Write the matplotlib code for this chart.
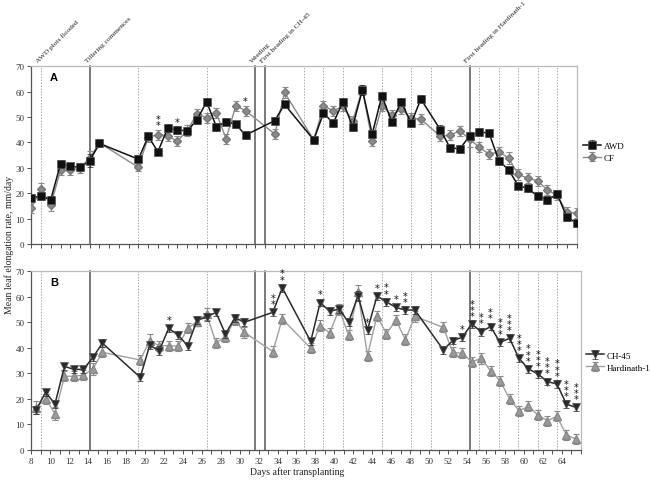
import matplotlib
matplotlib.use("Agg")
import matplotlib.pyplot as plt
from matplotlib.ticker import MultipleLocator, FixedLocator, NullFormatter
from matplotlib.transforms import blended_transform_factory

plt.rcParams['font.family'] = ['Liberation Serif', 'DejaVu Serif']

# ---------------- data: panel A (water regime) ----------------
days_A = [8, 9, 10, 11, 12, 13, 14, 15,
          19, 20, 21, 22, 23, 24, 25, 26, 27, 28, 29, 30,
          33, 34,
          37, 38, 39, 40, 41, 42, 43, 44, 45, 46, 47, 48,
          50, 51, 52, 53, 54, 55, 56, 57, 58, 59, 60, 61, 62, 63, 64]
awd = [18.3, 18.8, 17.5, 31.6, 30.6, 30.2, 32.8, 39.6,
       33.4, 42.4, 36.4, 45.6, 45.0, 44.5, 48.9, 56.0, 46.2, 48.2, 47.1, 42.9,
       48.6, 55.0,
       41.0, 51.6, 47.6, 56.0, 46.2, 60.8, 43.3, 58.4, 48.2, 56.0, 47.5, 57.1,
       45.0, 37.9, 37.5, 42.5, 44.0, 43.8, 32.8, 29.3, 23.0, 21.9, 18.8, 17.4, 19.6, 10.5, 8.3]
awd_err = [1.5, 1.5, 1.5, 1.5, 1.5, 1.5, 2.5, 1.5,
           1.5, 1.5, 1.5, 1.5, 1.5, 1.5, 1.5, 1.5, 1.5, 1.5, 1.5, 1.5,
           1.5, 1.5,
           1.5, 1.5, 1.5, 1.5, 1.5, 2.0, 1.5, 1.5, 1.5, 1.5, 1.5, 1.5,
           1.8, 1.5, 1.5, 1.5, 1.5, 1.5, 1.5, 1.5, 1.5, 1.5, 1.5, 1.5, 1.5, 1.5, 1.5]
cf = [14.3, 21.5, 15.4, 29.0, 29.2, 29.8, 34.0, 39.8,
      30.2, 42.0, 43.1, 42.5, 40.5, 44.7, 51.2, 49.8, 51.5, 41.5, 54.5, 52.5,
      43.3, 59.7,
      41.0, 54.4, 52.5, 54.2, 48.6, 60.8, 40.5, 54.4, 50.8, 53.1, 49.5, 49.2,
      42.4, 42.9, 44.6, 41.3, 38.1, 35.4, 36.3, 33.9, 27.4, 25.9, 24.9, 21.2, 19.2, 12.5, 12.1]
cf_err = [2.0, 2.5, 2.5, 2.0, 2.0, 2.0, 2.5, 1.5,
          1.5, 2.0, 2.0, 2.0, 2.0, 2.0, 2.0, 2.0, 2.0, 2.0, 2.0, 2.0,
          2.0, 2.0,
          1.5, 2.0, 2.0, 2.0, 2.0, 2.0, 2.0, 2.0, 2.0, 2.0, 2.0, 2.0,
          2.0, 2.0, 2.0, 3.0, 2.0, 2.0, 2.0, 2.5, 2.0, 2.0, 2.0, 2.0, 2.0, 2.0, 2.0]
stars_A_days = [21, 23, 30]
stars_A_n = [2, 1, 1]

# ---------------- data: panel B (variety) ----------------
days_B = [8.5, 9.5, 10.5, 11.5, 12.5, 13.5, 14.5, 15.5,
          19.5, 20.5, 21.5, 22.5, 23.5, 24.5, 25.5, 26.5, 27.5, 28.5, 29.5, 30.5,
          33.5, 34.5,
          37.5, 38.5, 39.5, 40.5, 41.5, 42.5, 43.5, 44.5, 45.5, 46.5, 47.5, 48.5,
          51.5, 52.5, 53.5, 54.5, 55.5, 56.5, 57.5, 58.5, 59.5, 60.5, 61.5, 62.5, 63.5, 64.5, 65.5]
ch45 = [15.5, 22.5, 18.0, 32.7, 31.5, 31.5, 36.2, 41.8,
        28.4, 41.0, 38.8, 47.6, 45.0, 40.8, 50.8, 52.0, 53.9, 45.4, 51.8, 50.0,
        53.9, 63.5,
        42.5, 57.7, 54.3, 55.2, 50.0, 60.4, 47.0, 60.3, 58.0, 55.8, 54.8, 54.8,
        39.2, 42.8, 44.1, 49.3, 46.3, 48.3, 42.1, 43.7, 35.8, 31.7, 29.7, 26.7, 25.8, 17.9, 16.6]
ch45_err = [1.5, 1.5, 1.5, 1.5, 1.5, 1.5, 1.5, 1.5,
            1.5, 1.5, 1.8, 1.5, 1.5, 1.5, 1.5, 1.5, 1.5, 1.5, 1.5, 1.5,
            1.5, 1.5,
            1.5, 1.5, 1.5, 1.5, 1.5, 2.0, 1.5, 1.5, 1.5, 1.5, 1.5, 1.5,
            1.5, 1.5, 1.5, 1.5, 1.5, 1.5, 1.5, 1.5, 1.5, 1.5, 1.5, 1.5, 1.5, 1.5, 1.5]
hard = [16.5, 20.0, 14.2, 28.8, 28.8, 29.3, 31.7, 38.2,
        35.2, 42.8, 40.8, 40.8, 40.6, 47.6, 50.3, 53.2, 42.0, 44.3, 51.0, 46.0,
        38.5, 51.3,
        39.8, 48.7, 45.8, 55.0, 45.0, 61.7, 36.9, 52.6, 45.4, 50.9, 43.2, 52.3,
        48.0, 38.2, 37.8, 34.5, 35.8, 30.9, 27.1, 19.9, 15.3, 17.0, 13.6, 11.4, 13.1, 5.8, 4.2]
hard_err = [2.5, 2.0, 2.5, 2.0, 2.0, 2.0, 2.5, 2.0,
            2.0, 2.5, 2.0, 2.0, 2.0, 2.0, 1.8, 2.5, 2.0, 2.0, 2.0, 2.0,
            2.0, 2.0,
            2.0, 2.0, 2.0, 2.0, 2.0, 3.0, 2.0, 2.0, 2.0, 2.0, 2.0, 2.0,
            2.0, 2.0, 2.0, 2.0, 2.0, 2.0, 2.0, 2.0, 2.0, 2.0, 2.0, 2.0, 2.0, 2.0, 2.0]
stars_B_days = [22.5, 33.5, 34.5, 38.5, 43.5, 44.5, 45.5, 46.5, 47.5,
                53.5, 54.5, 55.5, 56.5, 57.5, 58.5, 59.5, 60.5, 61.5, 62.5, 63.5, 64.5, 65.5]
stars_B_n = [1, 2, 2, 1, 1, 1, 2, 1, 2,
             1, 3, 2, 2, 3, 3, 3, 3, 3, 3, 3, 3, 3]

# ---------------- events (in panel-A day units) ----------------
event_solid = [14, 31, 32, 53]
event_dotted = [9, 19, 26, 36, 38, 40, 44, 47, 49, 54, 56, 58, 60, 62]
event_labels = ["AWD plots flooded", "Tillering commences", "Weeding",
                "First heading in CH-45", "First heading in Hardinath-1"]
event_label_days = [9, 14, 31, 32, 53]

# ---------------- figure ----------------
fig = plt.figure(figsize=(6.5, 4.81), dpi=100)
axA = fig.add_axes([0.0482, 0.4906, 0.839, 0.3695])
axB = fig.add_axes([0.0482, 0.063, 0.845, 0.3709])

axA.set_xlim(8, 64)
axB.set_xlim(8, 66)
for ax in (axA, axB):
    ax.set_ylim(0, 70)
    ax.yaxis.set_major_locator(MultipleLocator(10))
    ax.tick_params(axis='both', direction='out', length=3, width=0.6,
                   labelsize=6.5, pad=2, colors='#333333')
    ax.tick_params(axis='x', which='minor', direction='out', length=3, width=0.6, colors='#333333')
    for s in ('left', 'bottom'):
        ax.spines[s].set_color('#555555')
        ax.spines[s].set_linewidth(0.9)
    for s in ('top', 'right'):
        ax.spines[s].set_color('#bbbbbb')
        ax.spines[s].set_linewidth(0.9)

axA.xaxis.set_major_locator(MultipleLocator(1))
axA.xaxis.set_major_formatter(NullFormatter())
axB.xaxis.set_major_locator(FixedLocator(list(range(8, 65, 2))))
axB.xaxis.set_minor_locator(MultipleLocator(1))

# event lines in both panels (x in panel A units)
trA = blended_transform_factory(axA.transData, axA.transAxes)
trB = blended_transform_factory(axA.transData, axB.transAxes)
for ax, tr in ((axA, trA), (axB, trB)):
    for x in event_solid:
        ax.plot([x, x], [0, 1], transform=tr, color='#555555', lw=1.1, zorder=1, clip_on=False)
    for x in event_dotted:
        ax.plot([x, x], [0, 1], transform=tr, color='#aaaaaa', lw=0.7,
                ls=(0, (1.5, 1.5)), zorder=1, clip_on=False)

for lab, x in zip(event_labels, event_label_days):
    axA.annotate(lab, xy=(x, 1), xycoords=trA, xytext=(-1.5, 2.5),
                 textcoords='offset points', rotation=45, rotation_mode='anchor',
                 ha='left', va='bottom', fontsize=5.3, color='#222222')

# series
gray = '#8a8a8a'
axA.errorbar(days_A, cf, yerr=cf_err, color=gray, marker='D', ms=3.8, mfc=gray, mec='#777777',
             lw=1.0, elinewidth=0.8, capsize=2, capthick=0.8, zorder=3, label='CF')
axA.errorbar(days_A, awd, yerr=awd_err, color='#111111', marker='s', ms=5.8, mfc='#111111',
             mec='#555555', mew=0.5, lw=1.1, elinewidth=0.8, ecolor='#222222', capsize=2,
             capthick=0.8, zorder=4, label='AWD')

axB.errorbar(days_B, hard, yerr=hard_err, color='#a0a0a0', marker='^', ms=5.3, mfc='#9a9a9a',
             mec='#888888', lw=1.0, elinewidth=0.8, ecolor='#888888', capsize=2, capthick=0.8,
             zorder=3, label='Hardinath-1')
axB.errorbar(days_B, ch45, yerr=ch45_err, color='#2a2a2a', marker='v', ms=5.8, mfc='#2a2a2a',
             mec='#555555', mew=0.5, lw=1.1, elinewidth=0.8, ecolor='#222222', capsize=2,
             capthick=0.8, zorder=4, label='CH-45')

# significance stars
def draw_stars(ax, days, s1, e1, s2, e2, sdays, sn):
    for d, n in zip(sdays, sn):
        i = days.index(d)
        top = max(s1[i] + e1[i], s2[i] + e2[i])
        for k in range(n):
            ax.annotate('*', xy=(d, top), xytext=(0, 3.2 + 4.4 * k), textcoords='offset points',
                        ha='center', va='center', fontsize=7, color='#111111',
                        family='DejaVu Sans', zorder=5)

draw_stars(axA, days_A, awd, awd_err, cf, cf_err, stars_A_days, stars_A_n)
draw_stars(axB, days_B, ch45, ch45_err, hard, hard_err, stars_B_days, stars_B_n)

# panel labels
axA.text(0.034, 0.94, 'A', transform=axA.transAxes, fontfamily='Liberation Sans',
         fontweight='bold', fontsize=8, va='center', ha='left')
axB.text(0.034, 0.94, 'B', transform=axB.transAxes, fontfamily='Liberation Sans',
         fontweight='bold', fontsize=8, va='center', ha='left')

# legends
hA, lA = axA.get_legend_handles_labels()
axA.legend(hA[::-1], lA[::-1], loc='center left', bbox_to_anchor=(1.005, 0.52), frameon=False,
           fontsize=6.5, handlelength=2.0, handletextpad=0.3, labelspacing=0.4, borderaxespad=0)
hB, lB = axB.get_legend_handles_labels()
axB.legend(hB[::-1], lB[::-1], loc='center left', bbox_to_anchor=(1.003, 0.495), frameon=False,
           fontsize=6.5, handlelength=2.0, handletextpad=0.3, labelspacing=0.4, borderaxespad=0)

fig.text(0.014, 0.4906, 'Mean leaf elongation rate, mm/day', rotation=90,
         ha='center', va='center', fontsize=7, color='#222222')
fig.text(0.4577, 0.018, 'Days after transplanting', ha='center', va='center',
         fontsize=7, color='#222222')

fig.savefig('out.png', dpi=100)
